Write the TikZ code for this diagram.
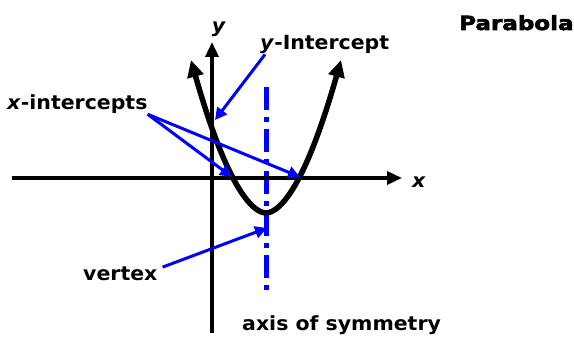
\documentclass[tikz,border=0pt]{standalone}
\usepackage{fontspec}
\setmainfont{DejaVu Sans}
\newfontfamily\lblfont{DejaVu Sans}[FakeStretch=1.05]
\newfontfamily\titlefont{DejaVu Sans}[FakeStretch=1.18,FakeBold=3]
\usetikzlibrary{arrows.meta}

\begin{document}
\begin{tikzpicture}[
  x=1pt, y=-1pt,
  lbl/.style={inner sep=0pt, anchor=base west,
    font=\lblfont\bfseries\fontsize{19.5}{22}\selectfont},
  axis/.style={line width=3.5pt, -{Triangle[length=15pt,width=13pt]}},
  curve/.style={line width=5.5pt,
    {Triangle[length=17pt,width=16pt]}-{Triangle[length=17pt,width=16pt]}},
  pointer/.style={blue, line width=3pt, -{Triangle[length=12pt,width=12pt]}},
  symaxis/.style={blue, line width=5pt,
    dash pattern=on 23pt off 7pt on 5pt off 7pt}
]
  \useasboundingbox (0,0) rectangle (574,339);

  % points on the graph
  \coordinate (xl) at (12,178);
  \coordinate (xr) at (402,178);
  \coordinate (yb) at (212,333);
  \coordinate (yt) at (212,42);
  \coordinate (sat) at (266,87);
  \coordinate (sab) at (266,297);
  \coordinate (yhit) at (215,120);
  \coordinate (xhit1) at (232,177);
  \coordinate (xhit2) at (300,177);
  \coordinate (vhit) at (267,228);

  % labels
  \node[lbl] (title) at (459,30) {\titlefont\bfseries Parabola};
  \node[lbl] (xint) at (7,110) {\textit{x}-intercepts};
  \node[lbl] (yint) at (260,50) {\textit{y}-Intercept};
  \node[lbl] (vert) at (83,281) {vertex};
  \node[lbl] (sym) at (242,331) {axis of symmetry};
  \node[lbl, anchor=center] (xlab) at (419,182) {\textit{x}};
  \node[lbl, anchor=center] (ylab) at (219,29) {\textit{y}};

  % axes and curve
  \draw[symaxis] (sat) -- (sab);
  \draw[axis] (xl) -- (xr);
  \draw[axis] (yb) -- (yt);
  \draw[curve] plot[domain=-75:75, samples=60]
    ({266+\x}, {213-0.0645*pow(abs(\x),1.8)});

  % pointers
  \draw[pointer] ([xshift=5pt]yint.south west) -- (yhit);
  \draw[pointer] (xint.south east) -- (xhit1);
  \draw[pointer] (xint.south east) -- (xhit2);
  \draw[pointer] ([xshift=5pt]vert.north east) -- (vhit);
\end{tikzpicture}
\end{document}
